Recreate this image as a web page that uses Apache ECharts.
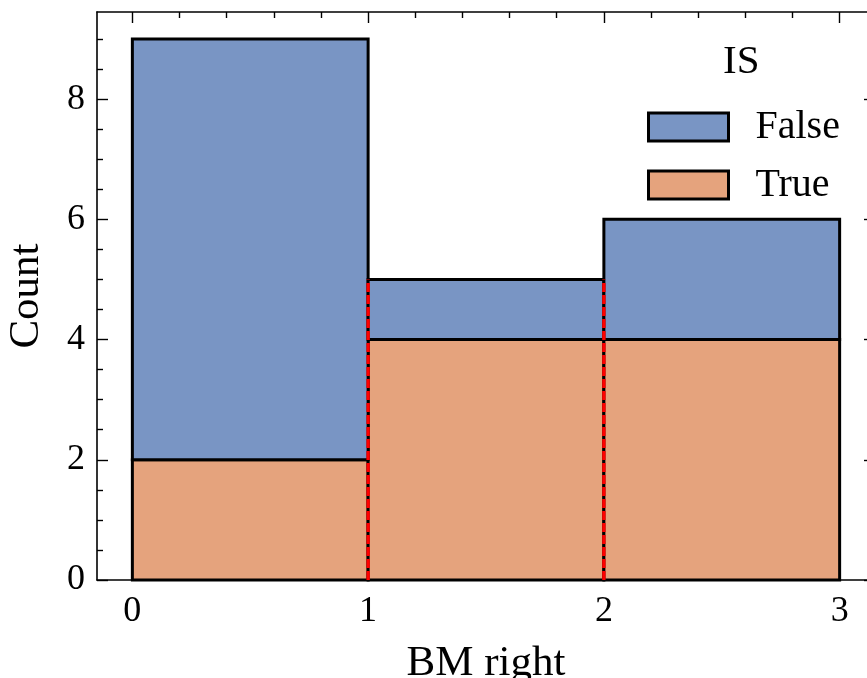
<!DOCTYPE html>
<html>
<head>
<meta charset="utf-8">
<script src="https://cdn.jsdelivr.net/npm/echarts@6/dist/echarts.min.js"></script>
<style>html,body{margin:0;padding:0;background:#fff}#c{width:867px;height:678px}</style>
</head>
<body>
<div id="c"></div>
<script>
// ---- data ----
var binEdges = [0, 1, 2, 3];
var trueCounts = [2, 4, 4];
var falseCounts = [7, 1, 2];
var seriesNames = ['False', 'True'];
var dividerX = [1, 2];
var dividerTop = [5, 5];
var xMajorTicks = [0, 1, 2, 3];
var xMinorTicks = [0.2, 0.4, 0.6, 0.8, 1.2, 1.4, 1.6, 1.8, 2.2, 2.4, 2.6, 2.8];
var yMajorTicks = [0, 2, 4, 6, 8];
var yMinorTicks = [0.5, 1, 1.5, 2.5, 3, 3.5, 4.5, 5, 5.5, 6.5, 7, 7.5, 8.5, 9];

var BLUE = '#7995c4', ORANGE = '#e5a37d';
var FONT = 'Liberation Serif';

var trueData = [], falseData = [];
for (var i = 0; i < trueCounts.length; i++) {
  trueData.push([binEdges[i], binEdges[i + 1], 0, trueCounts[i]]);
  falseData.push([binEdges[i], binEdges[i + 1], trueCounts[i], trueCounts[i] + falseCounts[i]]);
}
var dividerData = dividerX.map(function (x, i) { return [x, 0, dividerTop[i]]; });

function rectRenderer(fill) {
  return function (params, api) {
    var a = api.coord([api.value(0), api.value(3)]);
    var b = api.coord([api.value(1), api.value(2)]);
    return {
      type: 'rect',
      shape: { x: a[0], y: a[1], width: b[0] - a[0], height: b[1] - a[1] },
      style: { fill: fill, stroke: '#000', lineWidth: 3 }
    };
  };
}

function xAxis(pos, ticks, len, showLabels, showLine, extra) {
  var o = {
    type: 'value', position: pos, min: -0.15, max: 3.15,
    axisLine: { show: showLine, onZero: false, lineStyle: { color: '#000', width: 1.6 } },
    axisTick: { show: true, inside: true, length: len, customValues: ticks, lineStyle: { color: '#000', width: 1.4 } },
    axisLabel: { show: showLabels, customValues: ticks, color: '#000', fontFamily: FONT, fontSize: 36, margin: 14 },
    splitLine: { show: false }
  };
  return Object.assign(o, extra || {});
}
function yAxis(pos, ticks, len, showLabels, showLine, extra) {
  var o = {
    type: 'value', position: pos, min: 0, max: 9.45,
    axisLine: { show: showLine, onZero: false, lineStyle: { color: '#000', width: 1.6 } },
    axisTick: { show: true, inside: true, length: len, customValues: ticks, lineStyle: { color: '#000', width: 1.4 } },
    axisLabel: { show: showLabels, customValues: ticks, color: '#000', fontFamily: FONT, fontSize: 36, margin: 12 },
    splitLine: { show: false }
  };
  return Object.assign(o, extra || {});
}

var chart = echarts.init(document.getElementById('c'), null, { renderer: 'canvas' });
chart.setOption({
  animation: false,
  backgroundColor: '#fff',
  grid: { left: 97, top: 12, width: 778, height: 568, containLabel: false, outerBoundsMode: 'none' },
  title: {
    text: 'IS', left: 723, top: 42, padding: 0,
    textStyle: { fontFamily: FONT, fontSize: 41, fontWeight: 'normal', color: '#000' }
  },
  legend: {
    orient: 'vertical', left: 642, top: 102, itemWidth: 80, itemHeight: 28, itemGap: 18,
    textStyle: { fontFamily: FONT, fontSize: 40, color: '#000', padding: [0, 0, 0, 22] },
    data: [
      { name: 'False', icon: 'rect', itemStyle: { color: BLUE, borderColor: '#000', borderWidth: 3 } },
      { name: 'True', icon: 'rect', itemStyle: { color: ORANGE, borderColor: '#000', borderWidth: 3 } }
    ]
  },
  xAxis: [
    xAxis('bottom', xMajorTicks, 11, true, true, {
      name: 'BM right', nameLocation: 'middle', nameGap: 62,
      nameTextStyle: { fontFamily: FONT, fontSize: 43, color: '#000' }
    }),
    xAxis('bottom', xMinorTicks, 6, false, false),
    xAxis('top', xMajorTicks, 11, false, true),
    xAxis('top', xMinorTicks, 6, false, false)
  ],
  yAxis: [
    yAxis('left', yMajorTicks, 11, true, true, {
      name: 'Count', nameLocation: 'middle', nameGap: 49, nameRotate: 90,
      nameTextStyle: { fontFamily: FONT, fontSize: 43, color: '#000' }
    }),
    yAxis('left', yMinorTicks, 6, false, false),
    yAxis('right', yMajorTicks, 11, false, true),
    yAxis('right', yMinorTicks, 6, false, false)
  ],
  series: [
    {
      name: 'True', type: 'custom', xAxisIndex: 0, yAxisIndex: 0,
      itemStyle: { color: ORANGE },
      encode: { x: [0, 1], y: [2, 3] },
      renderItem: rectRenderer(ORANGE), data: trueData, z: 2
    },
    {
      name: 'False', type: 'custom', xAxisIndex: 0, yAxisIndex: 0,
      itemStyle: { color: BLUE },
      encode: { x: [0, 1], y: [2, 3] },
      renderItem: rectRenderer(BLUE), data: falseData, z: 2
    },
    {
      name: 'divider', type: 'custom', xAxisIndex: 0, yAxisIndex: 0,
      encode: { x: 0, y: [1, 2] },
      renderItem: function (params, api) {
        var a = api.coord([api.value(0), api.value(1)]);
        var b = api.coord([api.value(0), api.value(2)]);
        return {
          type: 'line',
          shape: { x1: a[0], y1: a[1], x2: b[0], y2: b[1] },
          style: { stroke: '#ff0000', lineWidth: 3.4, lineDash: [9, 3] }
        };
      },
      data: dividerData, z: 3
    }
  ]
});
</script>
</body>
</html>
